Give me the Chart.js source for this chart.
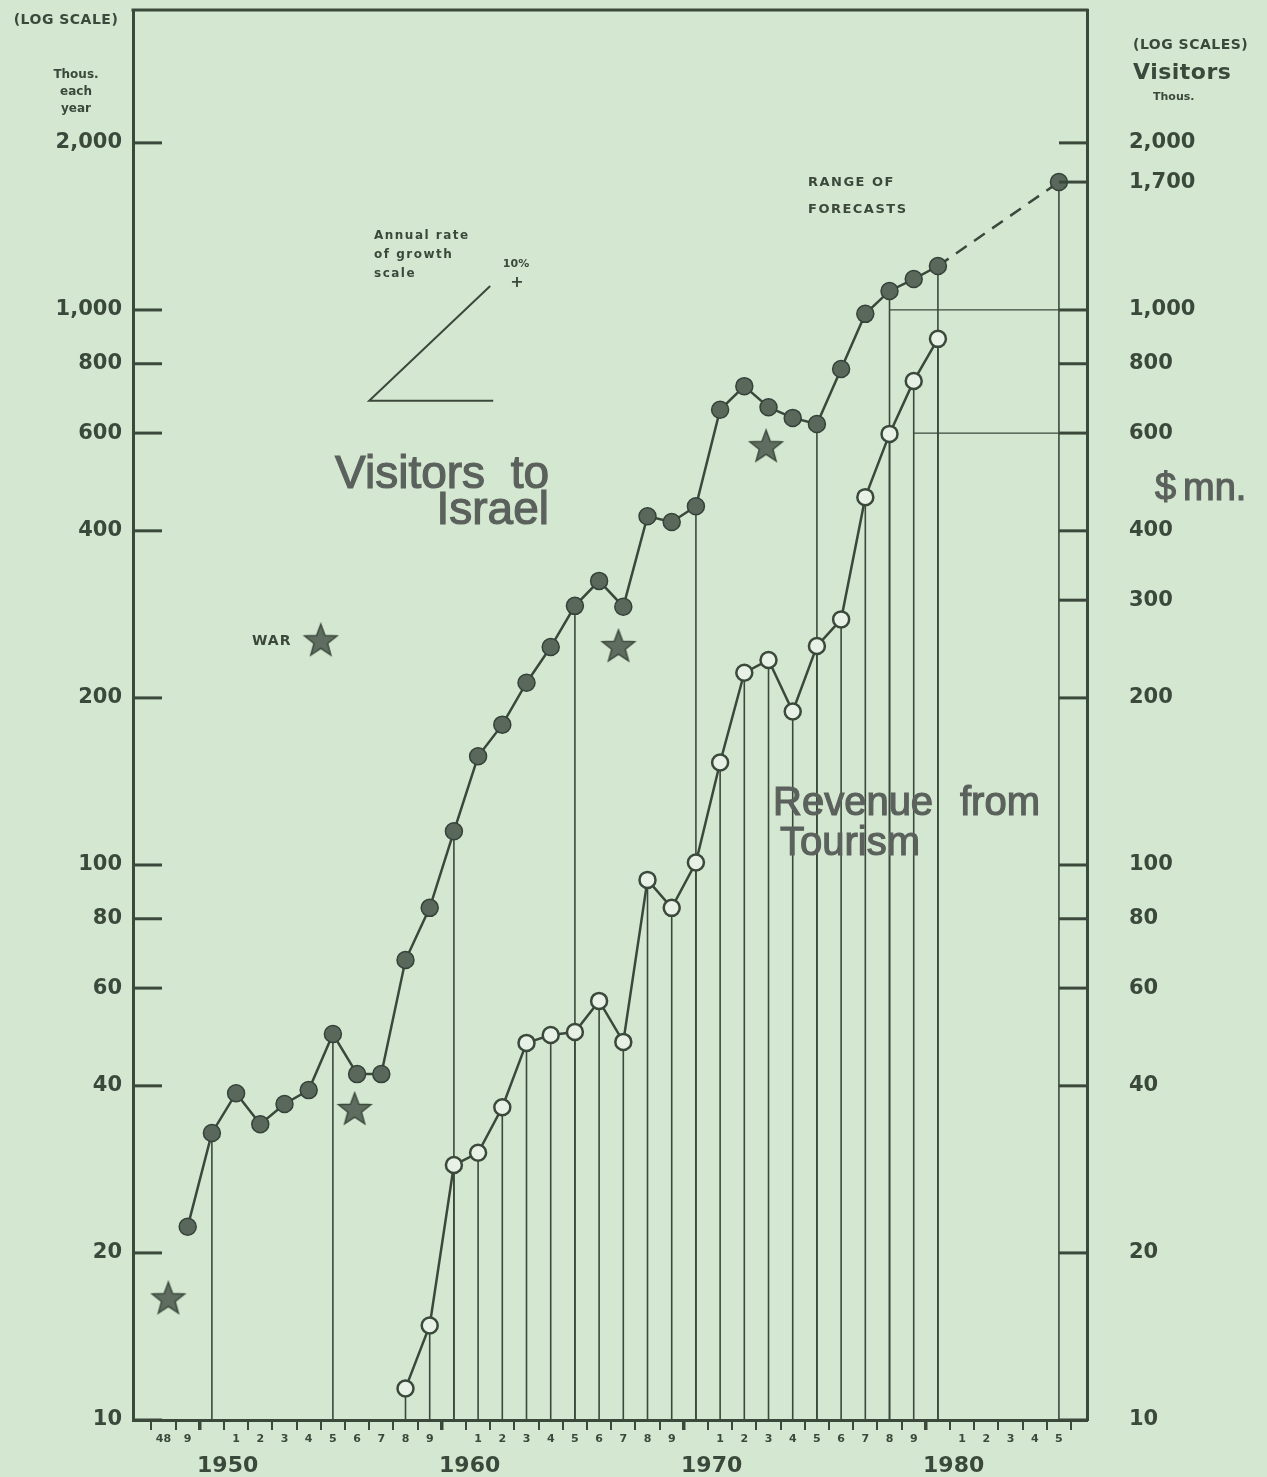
<!DOCTYPE html>
<html>
<head>
<meta charset="utf-8">
<script src="https://cdn.jsdelivr.net/npm/chart.js@4.4.1/dist/chart.umd.min.js"></script>
<style>
  html, body { margin: 0; padding: 0; background: #d4e8d1; }
  #wrap { width: 1267px; height: 1477px; }
</style>
</head>
<body>
<div id="wrap"><canvas id="tourism" width="1267" height="1477"></canvas></div>
<script>
// visitors to Israel, thousands each year
const visitorYears = [1949, 1950, 1951, 1952, 1953, 1954, 1955, 1956, 1957, 1958, 1959,
  1960, 1961, 1962, 1963, 1964, 1965, 1966, 1967, 1968, 1969,
  1970, 1971, 1972, 1973, 1974, 1975, 1976, 1977, 1978, 1979, 1980, 1985];
const visitors = [22.3, 32.9, 38.8, 34.1, 37.1, 39.3, 49.6, 42, 42, 67.4, 83.7,
  115, 157, 179, 213, 247, 293, 325, 292, 425, 415,
  443, 661, 729, 668, 639, 623, 783, 984, 1082, 1137, 1200, 1700];
// years that get a drop line down to the time axis
const visitorDropYears = [1950, 1955, 1960, 1965, 1970, 1975, 1978, 1980, 1985];

// revenue from tourism, $mn.
const revenueYears = [1958, 1959, 1960, 1961, 1962, 1963, 1964, 1965, 1966, 1967, 1968, 1969,
  1970, 1971, 1972, 1973, 1974, 1975, 1976, 1977, 1978, 1979, 1980];
const revenue = [11.4, 14.8, 28.8, 30.3, 36.6, 47.8, 49.4, 50.0, 56.9, 48.0, 94.0, 83.7,
  101, 153, 222, 234, 189, 248, 277, 460, 598, 745, 887];

// war stars
const warYears = [1948.2, 1955.9, 1966.8, 1972.9];
const warLevels = [16.5, 36.2, 247, 566];
const warKey = { x: 1954.5, y: 253 };

// range of forecasts levels
const forecastLevels = [1000, 600];
const forecastFrom = [1978, 1979];

// growth key: 10% a year
const growthKey = { from: 1956.5, to: 1961.5, level: 686, rate: 0.10 };

// axes
const leftTicks = [10, 20, 40, 60, 80, 100, 200, 400, 600, 800, 1000, 2000];
const rightTicks = [10, 20, 40, 60, 80, 100, 200, 300, 400, 600, 800, 1000, 1700, 2000];
const labelYears = [];
for (let yr = 1948; yr <= 1985; yr++) labelYears.push(yr);
const decadeLabels = ['1950', '1960', '1970', '1980'];

const xMin = 1946.74, xMax = 1986.16;
const yMin = 10, yMax = 3471;

const ink = '#3a493b';
const paper = '#d4e8d1';

function yearLabel(yr) {
  if (yr === 1948) return '48';
  if (yr % 10 === 0) return null;
  return String(yr % 10);
}

function starImage(r, fill, stroke) {
  const c = document.createElement('canvas');
  c.width = c.height = r * 2 + 4;
  const g = c.getContext('2d');
  const cx = r + 2, cy = r + 2, ri = r * 0.42;
  g.beginPath();
  for (let i = 0; i < 10; i++) {
    const rad = i % 2 ? ri : r;
    const a = -Math.PI / 2 + i * Math.PI / 5;
    g.lineTo(cx + rad * Math.cos(a), cy + rad * Math.sin(a));
  }
  g.closePath();
  g.fillStyle = fill; g.fill();
  g.lineWidth = 1.5; g.strokeStyle = stroke; g.stroke();
  return c;
}
const star = starImage(17, '#5e6d5f', '#3d4b3e');

const datasets = [
  {
    label: 'Visitors',
    data: visitorYears.map((x, i) => ({ x: x, y: visitors[i] })),
    yAxisID: 'y',
    borderColor: ink,
    borderWidth: 2.5,
    pointRadius: 8.5,
    pointBackgroundColor: '#5a685b',
    pointBorderColor: '#34423a',
    pointBorderWidth: 1.5,
    segment: { borderDash: ctx => ctx.p1.parsed.x > 1980 ? [13, 9] : undefined }
  },
  {
    label: 'Revenue',
    data: revenueYears.map((x, i) => ({ x: x, y: revenue[i] })),
    yAxisID: 'y',
    borderColor: ink,
    borderWidth: 2.5,
    pointRadius: 8,
    pointBackgroundColor: '#e8f1e5',
    pointBorderColor: ink,
    pointBorderWidth: 2.5
  },
  {
    label: 'War',
    data: warYears.map((x, i) => ({ x: x, y: warLevels[i] })).concat([warKey]),
    yAxisID: 'y',
    showLine: false,
    pointStyle: star,
    pointRadius: 17
  }
];
forecastLevels.forEach((lv, i) => {
  datasets.push({
    label: 'Forecast ' + lv,
    data: [{ x: forecastFrom[i], y: lv }, { x: xMax, y: lv }],
    yAxisID: 'y',
    borderColor: ink,
    borderWidth: 1.2,
    pointRadius: 0
  });
});

// drop lines from the points to the time axis
const dropLines = {
  id: 'dropLines',
  beforeDatasetsDraw(chart) {
    const ctx = chart.ctx, bottom = chart.chartArea.bottom;
    ctx.save();
    ctx.strokeStyle = ink;
    ctx.lineWidth = 1.6;
    chart.getDatasetMeta(0).data.forEach((pt, i) => {
      if (visitorDropYears.indexOf(visitorYears[i]) < 0) return;
      ctx.beginPath(); ctx.moveTo(pt.x, pt.y); ctx.lineTo(pt.x, bottom); ctx.stroke();
    });
    chart.getDatasetMeta(1).data.forEach(pt => {
      ctx.beginPath(); ctx.moveTo(pt.x, pt.y); ctx.lineTo(pt.x, bottom); ctx.stroke();
    });
    ctx.restore();
  }
};

const paperPlugin = {
  id: 'paper',
  beforeDraw(chart) {
    const ctx = chart.ctx;
    ctx.save();
    ctx.fillStyle = paper;
    ctx.fillRect(0, 0, chart.width, chart.height);
    ctx.restore();
  }
};

function text(ctx, s, x, y, font, align, spacing) {
  ctx.font = font;
  ctx.textAlign = align || 'left';
  ctx.letterSpacing = spacing || '0px';
  ctx.fillText(s, x, y);
}

const decorations = {
  id: 'decorations',
  afterDraw(chart) {
    const ctx = chart.ctx, a = chart.chartArea;
    const xs = chart.scales.x, ys = chart.scales.y;
    ctx.save();
    ctx.strokeStyle = ink;
    ctx.fillStyle = ink;
    // top of frame
    ctx.lineWidth = 3;
    ctx.beginPath(); ctx.moveTo(a.left - 1.5, a.top); ctx.lineTo(a.right + 1.5, a.top); ctx.stroke();
    // inward value ticks
    leftTicks.forEach(v => {
      const py = ys.getPixelForValue(v);
      ctx.beginPath(); ctx.moveTo(a.left, py); ctx.lineTo(a.left + 29, py); ctx.stroke();
    });
    rightTicks.forEach(v => {
      const py = ys.getPixelForValue(v);
      ctx.beginPath(); ctx.moveTo(a.right - 28, py); ctx.lineTo(a.right, py); ctx.stroke();
    });
    // growth key
    const gx0 = xs.getPixelForValue(growthKey.from), gx1 = xs.getPixelForValue(growthKey.to);
    const gy0 = ys.getPixelForValue(growthKey.level);
    const gy1 = ys.getPixelForValue(growthKey.level * Math.pow(1 + growthKey.rate, growthKey.to - growthKey.from));
    ctx.lineWidth = 2;
    ctx.beginPath(); ctx.moveTo(gx1, gy1); ctx.lineTo(gx0, gy0); ctx.lineTo(gx1 + 3, gy0); ctx.stroke();

    ctx.textBaseline = 'middle';
    text(ctx, 'Annual rate', 374, 236, 'bold 12px "DejaVu Sans"', 'left', '1.5px');
    text(ctx, 'of growth', 374, 255, 'bold 12px "DejaVu Sans"', 'left', '1.5px');
    text(ctx, 'scale', 374, 274, 'bold 12px "DejaVu Sans"', 'left', '1.5px');
    text(ctx, '10%', 516, 264, 'bold 11px "DejaVu Sans"', 'center');
    text(ctx, '+', 517, 283, 'bold 16px "DejaVu Sans"', 'center');

    text(ctx, 'RANGE OF', 808, 183, 'bold 13px "DejaVu Sans"', 'left', '1.5px');
    text(ctx, 'FORECASTS', 808, 210, 'bold 13px "DejaVu Sans"', 'left', '1.5px');
    text(ctx, 'WAR', 252, 641, 'bold 14px "DejaVu Sans"', 'left', '1px');

    // axis headings
    text(ctx, '(LOG SCALE)', 66, 20, 'bold 14px "DejaVu Sans"', 'center', '0.5px');
    text(ctx, 'Thous.', 76, 75, 'bold 12px "DejaVu Sans"', 'center');
    text(ctx, 'each', 76, 92, 'bold 12px "DejaVu Sans"', 'center');
    text(ctx, 'year', 76, 109, 'bold 12px "DejaVu Sans"', 'center');
    text(ctx, '(LOG SCALES)', 1133, 45, 'bold 14px "DejaVu Sans"', 'left', '0.5px');
    text(ctx, 'Visitors', 1133, 73, 'bold 22px "DejaVu Sans"', 'left', '0.5px');
    text(ctx, 'Thous.', 1153, 97, 'bold 11px "DejaVu Sans"', 'left');

    // big titles
    ctx.textBaseline = 'alphabetic';
    ctx.fillStyle = '#5b615c';
    ctx.strokeStyle = '#5b615c';
    ctx.lineWidth = 1.2;
    const big = (s, x, y, size, align) => {
      ctx.font = size + 'px "Liberation Sans"';
      ctx.textAlign = align;
      ctx.letterSpacing = '0px';
      ctx.fillText(s, x, y);
      ctx.strokeText(s, x, y);
    };
    big('Visitors  to', 549, 488, 46, 'right');
    big('Israel', 549, 524, 46, 'right');
    big('Revenue', 773, 815, 40, 'left');
    big('from', 960, 815, 40, 'left');
    big('Tourism', 780, 855, 40, 'left');
    big('$', 1155, 500, 38, 'left');
    big('mn.', 1183, 500, 38, 'left');
    ctx.restore();
  }
};

const valueTickStyle = {
  autoSkip: false,
  color: ink,
  font: { family: '"DejaVu Sans"', size: 21, weight: 'bold' },
  callback: v => v.toLocaleString('en-US')
};

function fitVertical(width) {
  return scale => {
    scale.width = width;
    scale.paddingTop = 0;
    scale.paddingBottom = 0;
  };
}

new Chart(document.getElementById('tourism'), {
  type: 'line',
  data: { datasets: datasets },
  options: {
    responsive: false,
    animation: false,
    devicePixelRatio: 1,
    layout: { autoPadding: false, padding: { top: 10, left: 0, right: 0, bottom: 0 } },
    plugins: { legend: { display: false }, tooltip: { enabled: false } },
    elements: { line: { tension: 0 } },
    scales: {
      x: {
        type: 'linear',
        min: xMin,
        max: xMax,
        bounds: 'data',
        afterBuildTicks: scale => {
          const ticks = [];
          for (let b = 1946.5; b <= 1985.5; b++) ticks.push({ value: b, mark: true, big: (b + 0.5) % 10 === 0 });
          labelYears.forEach(yr => { if (yearLabel(yr)) ticks.push({ value: yr, digit: yearLabel(yr) }); });
          decadeLabels.forEach(d => ticks.push({ value: +d + 0.65, decade: d }));
          ticks.sort((p, q) => p.value - q.value);
          scale.ticks = ticks.filter(t => t.value >= xMin && t.value <= xMax);
        },
        afterFit: scale => {
          scale.height = 57;
          scale.paddingLeft = 0;
          scale.paddingRight = 0;
        },
        border: { display: true, color: ink, width: 3 },
        grid: {
          drawOnChartArea: false,
          drawTicks: true,
          tickLength: 10,
          color: c => (c.tick && c.tick.mark) ? ink : 'rgba(0,0,0,0)',
          lineWidth: c => (c.tick && c.tick.big) ? 3.5 : 2
        },
        ticks: {
          autoSkip: false,
          maxRotation: 0,
          padding: 3,
          color: ink,
          font: c => (c.tick && c.tick.decade)
            ? { family: '"DejaVu Sans"', size: 22, weight: 'bold', lineHeight: 1.0 }
            : { family: '"DejaVu Sans"', size: 11, weight: 'bold' },
          callback: function (v, i, ticks) {
            const t = ticks[i];
            if (t.decade) return ['', t.decade];
            return t.digit || '';
          }
        }
      },
      y: {
        type: 'logarithmic',
        position: 'left',
        min: yMin,
        max: yMax,
        bounds: 'data',
        afterBuildTicks: scale => { scale.ticks = leftTicks.map(v => ({ value: v })); },
        afterFit: fitVertical(133),
        border: { display: true, color: ink, width: 3 },
        grid: { drawOnChartArea: false, drawTicks: false },
        ticks: Object.assign({ padding: 11 }, valueTickStyle)
      },
      y2: {
        type: 'logarithmic',
        position: 'right',
        min: yMin,
        max: yMax,
        bounds: 'data',
        afterBuildTicks: scale => { scale.ticks = rightTicks.map(v => ({ value: v })); },
        afterFit: fitVertical(180),
        border: { display: true, color: ink, width: 3 },
        grid: { drawOnChartArea: false, drawTicks: false },
        ticks: Object.assign({ padding: 42 }, valueTickStyle)
      }
    }
  },
  plugins: [paperPlugin, dropLines, decorations]
});
</script>
</body>
</html>
